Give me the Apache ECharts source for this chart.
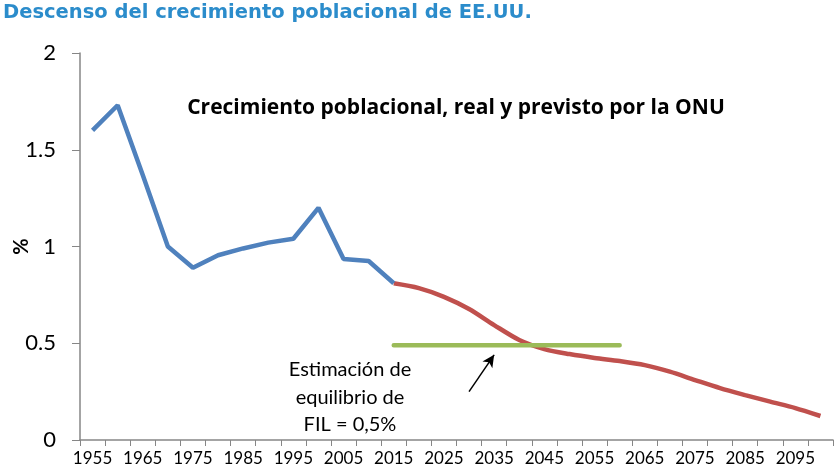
<!DOCTYPE html>
<html>
<head>
<meta charset="utf-8">
<script src="https://cdn.jsdelivr.net/npm/echarts@6/dist/echarts.min.js"></script>
<style>
html, body { margin: 0; padding: 0; background: #fff; }
#chart { width: 836px; height: 475px; }
</style>
</head>
<body>
<div id="chart"></div>
<script>
var myChart = echarts.init(document.getElementById('chart'));

var years = ['1955','1960','1965','1970','1975','1980','1985','1990','1995','2000',
    '2005','2010','2015','2020','2025','2030','2035','2040','2045','2050',
    '2055','2060','2065','2070','2075','2080','2085','2090','2095','2100'];

// real (blue), up to 2015
var realGrowth = [1.60, 1.73, 1.37, 1.00, 0.89, 0.955, 0.99, 1.02, 1.04, 1.20,
    0.935, 0.925, 0.81];

// UN projection (red), from 2015
var projGrowth = [0.81, 0.785, 0.74, 0.677, 0.594, 0.517, 0.47, 0.444, 0.424, 0.408,
    0.387, 0.353, 0.31, 0.268, 0.232, 0.198, 0.165, 0.124];

// equilibrium estimate (green), 2015 - 2060
var equilYears = ['2015','2060'];
var equilValue = 0.49;

// arrow: [category index, value]
var arrowFrom = [15.2, 0.25];
var arrowTo = [16.15, 0.44];

function padFront(arr, n) {
    var out = [];
    for (var i = 0; i < n; i++) out.push(null);
    return out.concat(arr);
}

var blueData = realGrowth;
var redData = padFront(projGrowth, years.length - projGrowth.length);
var greenData = years.map(function(y) {
    var i = years.indexOf(y);
    return (i >= years.indexOf(equilYears[0]) && i <= years.indexOf(equilYears[1])) ? equilValue : null;
});

var baseFont = 'Lato, "Open Sans", sans-serif';

myChart.setOption({
    animation: false,
    title: {
        text: 'Descenso del crecimiento poblacional de EE.UU.',
        left: 3,
        top: 3,
        padding: 0,
        textStyle: {
            color: '#2b8ccb',
            fontSize: 19.5,
            fontWeight: 'bold',
            fontFamily: '"DejaVu Sans", sans-serif'
        }
    },
    grid: {
        left: 80,
        right: 3,
        top: 53,
        bottom: 35,
        containLabel: false,
        outerBoundsMode: 'none'
    },
    xAxis: {
        type: 'category',
        data: years,
        boundaryGap: true,
        axisLine: { lineStyle: { color: '#868686', width: 1.5 } },
        axisTick: { show: true, length: 6, interval: 0, lineStyle: { color: '#868686' } },
        axisLabel: {
            interval: 1,
            color: '#000',
            fontSize: 17,
            fontFamily: baseFont,
            margin: 10
        }
    },
    yAxis: {
        type: 'value',
        min: 0,
        max: 2,
        interval: 0.5,
        name: '%',
        nameLocation: 'middle',
        nameGap: 48,
        nameRotate: 90,
        nameMoveOverlap: false,
        nameTextStyle: { color: '#000', fontSize: 20, fontWeight: 'bold', fontFamily: baseFont },
        axisLine: { show: true, lineStyle: { color: '#868686', width: 1.5 } },
        axisTick: { show: true, length: 8, lineStyle: { color: '#868686' } },
        splitLine: { show: false },
        axisLabel: {
            color: '#000',
            fontSize: 22,
            fontFamily: baseFont,
            margin: 24
        }
    },
    graphic: [{
        type: 'text',
        x: 456,
        y: 108,
        style: {
            text: 'Crecimiento poblacional, real y previsto por la ONU',
            fill: '#000',
            font: 'bold 21px "Open Sans", sans-serif',
            textAlign: 'center',
            textVerticalAlign: 'middle'
        }
    }, {
        type: 'text',
        x: 350,
        y: 356,
        style: {
            text: 'Estimación de\nequilibrio de\nFIL = 0,5%',
            fill: '#000',
            font: '20px ' + baseFont,
            textAlign: 'center',
            lineHeight: 27.5
        }
    }],
    series: [{
        name: 'real',
        type: 'line',
        data: blueData,
        symbol: 'none',
        lineStyle: { color: '#4f81bd', width: 4.5 },
        z: 3
    }, {
        name: 'previsto',
        type: 'line',
        data: redData,
        symbol: 'none',
        smooth: 0.3,
        lineStyle: { color: '#c0504d', width: 4.5 },
        z: 2,
        markLine: {
            silent: true,
            symbol: ['none', 'arrow'],
            symbolSize: [9, 12],
            label: { show: false },
            lineStyle: { color: '#000', width: 1.5, type: 'solid' },
            data: [[{ coord: arrowFrom }, { coord: arrowTo }]]
        }
    }, {
        name: 'equilibrio',
        type: 'line',
        data: greenData,
        symbol: 'none',
        lineStyle: { color: '#9bbb59', width: 4.5, cap: 'round' },
        z: 4
    }]
});
</script>
</body>
</html>
